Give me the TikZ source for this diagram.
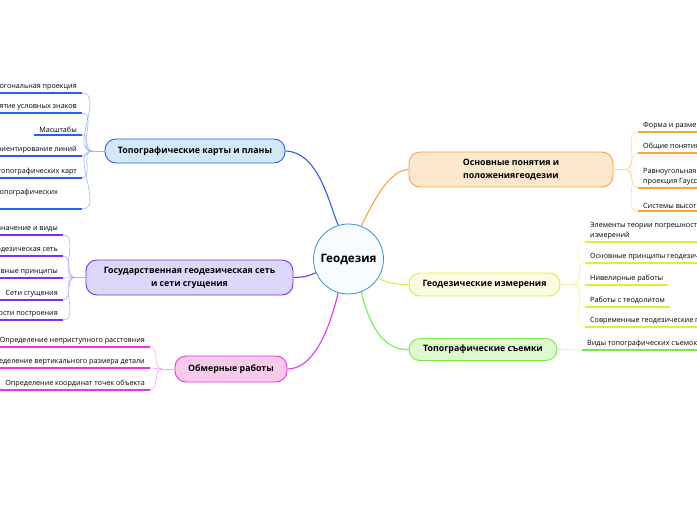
\documentclass[tikz,border=0pt]{standalone}
\usepackage{fontspec}
\setmainfont{Open Sans}
\usepackage{xcolor}
\usetikzlibrary{positioning}
\definecolor{hubline}{HTML}{3B8FD9}
\definecolor{hubfill}{HTML}{F8FCFF}
\definecolor{topoblue}{HTML}{2560EE}
\definecolor{topofill}{HTML}{D3E9FA}
\definecolor{gospurple}{HTML}{7B30E6}
\definecolor{gosfill}{HTML}{DCD8FC}
\definecolor{obmpink}{HTML}{E634E6}
\definecolor{obmfill}{HTML}{F9C9EC}
\definecolor{osnorange}{HTML}{F7A63C}
\definecolor{osnfill}{HTML}{FCE8CD}
\definecolor{izmyellow}{HTML}{D8F23C}
\definecolor{izmfill}{HTML}{FBFBE2}
\definecolor{sjemgreen}{HTML}{6EF046}
\definecolor{sjemfill}{HTML}{DFF8CF}
\newcommand{\leafsize}{\fontsize{7.2}{10}\selectfont}

\begin{document}
\begin{tikzpicture}[x=1pt, y=-1pt,
    hub/.style={draw=hubline, fill=hubfill, circle, line width=0.8pt, minimum size=70pt,
                inner sep=0pt, font=\fontsize{11.6}{13}\selectfont\bfseries},
    topic/.style={draw, rounded corners=11pt, line width=0.9pt, align=center,
                  inner sep=2pt, font=\fontsize{8.8}{13}\selectfont\bfseries},
    leafl/.style={anchor=south east, inner xsep=5pt, inner ysep=2.5pt,
                  font=\leafsize, align=right},
    leafr/.style={anchor=south west, inner xsep=5pt, inner ysep=2.5pt,
                  font=\leafsize, align=left},
    branch/.style={line width=1.1pt},
    uline/.style={line width=1.3pt},
    twig/.style={line width=0.6pt},
]
\useasboundingbox (0,0) rectangle (697,520);
\clip (0,0) rectangle (697,520);

% Centre
\node[hub] (geo) at (348.5,259) {Геодезия};

% Main topics
\node[topic, draw=topoblue, fill=topofill, minimum width=180pt, minimum height=24pt]
  (topo) at (195,151) {Топографические карты и планы};
\node[topic, draw=gospurple, fill=gosfill, minimum width=207pt, minimum height=35pt]
  (gos) at (189.5,277.5) {Государственная геодезическая сеть\\и сети сгущения};
\node[topic, draw=obmpink, fill=obmfill, minimum width=112pt, minimum height=26pt]
  (obm) at (231,369) {Обмерные работы};
\node[topic, draw=osnorange, fill=osnfill, minimum width=204pt, minimum height=35pt]
  (osn) at (511,169.5) {Основные понятия и\\положениягеодезии};
\node[topic, draw=izmyellow, fill=izmfill, minimum width=151pt, minimum height=23pt]
  (izm) at (484.5,284.5) {Геодезические измерения};
\node[topic, draw=sjemgreen, fill=sjemfill, minimum width=148pt, minimum height=22pt]
  (sjem) at (483,349.5) {Топографические съемки};

% Branches from the centre
\draw[branch, topoblue] (geo.107) .. controls (328,200) and (318,152) .. (topo.east);
\draw[branch, osnorange] (geo.69) .. controls (372,205) and (388,170) .. (osn.west);
\draw[branch, gospurple] (geo.203) .. controls (305,277) .. (gos.east);
\draw[branch, obmpink] (geo.253) .. controls (328,335) and (312,369) .. (obm.east);
\draw[branch, izmyellow] (geo.327) .. controls (392,284) .. (izm.west);
\draw[branch, sjemgreen] (geo.291) .. controls (372,335) and (388,350) .. (sjem.west);

% Junctions
\coordinate (tj) at (92,151);
\coordinate (gj) at (75,277.5);
\coordinate (oj) at (162,369);
\coordinate (pj) at (625,169.5);
\coordinate (mj) at (573,284.5);

% Topographic maps leaves
\node[leafl] (t1) at (82,93) {Ортогональная проекция};
\node[leafl] (t2) at (82,113) {Понятие условных знаков};
\node[leafl] (t3) at (82,135) {Масштабы};
\node[leafl] (t4) at (82,156) {Ориентирование линий};
\node[leafl] (t5) at (82,178) {Номенклатура топографических карт};
\node[leafl, align=left, text width=138pt] (t6) at (82,209) {Использование топографических\\карт};
\foreach \n in {t1,t2,t3,t4,t5,t6} {
  \draw[uline, topoblue] (\n.south west) -- (\n.south east);
  \draw[twig, topoblue!45] (\n.south east) to[out=0, in=180] (tj);
}
\draw[twig, topoblue!45] (tj) -- (topo.west);

% Geodetic network leaves
\node[leafl] (g1) at (63,235) {Назначение и виды};
\node[leafl] (g2) at (63,256) {Государственная геодезическая сеть};
\node[leafl] (g3) at (63,278) {Основные принципы};
\node[leafl] (g4) at (63,300) {Сети сгущения};
\node[leafl] (g5) at (63,320) {Особенности построения};
\foreach \n in {g1,g2,g3,g4,g5} {
  \draw[uline, gospurple] (\n.south west) -- (\n.south east);
  \draw[twig, gospurple!45] (\n.south east) to[out=0, in=180] (gj);
}
\draw[twig, gospurple!45] (gj) -- (gos.west);

% Measuring works leaves
\node[leafl] (o1) at (150,347) {Определение неприступного расстояния};
\node[leafl] (o2) at (150,368) {Определение вертикального размера детали};
\node[leafl] (o3) at (150,390) {Определение координат точек объекта};
\foreach \n in {o1,o2,o3} {
  \draw[uline, obmpink] (\n.south west) -- (\n.south east);
  \draw[twig, obmpink!45] (\n.south east) to[out=0, in=180] (oj);
}
\draw[twig, obmpink!45] (oj) -- (obm.west);

% Basic notions leaves
\node[leafr] (p1) at (638,132) {Форма и размеры Земли};
\node[leafr] (p2) at (638,153) {Общие понятия};
\node[leafr] (p3) at (638,188) {Равноугольная\\проекция Гаусса-Крюгера};
\node[leafr] (p4) at (638,211) {Системы высот};
\foreach \n in {p1,p2,p3,p4} {
  \draw[uline, osnorange] (\n.south west) -- (\n.south east);
  \draw[twig, osnorange!45] (pj) to[out=0, in=180] (\n.south west);
}
\draw[twig, osnorange!45] (osn.east) -- (pj);

% Geodetic measurements leaves
\node[leafr] (m1) at (585,242) {Элементы теории погрешностей\\измерений};
\node[leafr] (m2) at (585,263) {Основные принципы геодезических измерений};
\node[leafr] (m3) at (585,285) {Нивелирные работы};
\node[leafr] (m4) at (585,307) {Работы с теодолитом};
\node[leafr] (m5) at (585,327) {Современные геодезические приборы};
\foreach \n in {m1,m2,m3,m4,m5} {
  \draw[uline, izmyellow] (\n.south west) -- (\n.south east);
  \draw[twig, izmyellow!45] (mj) to[out=0, in=180] (\n.south west);
}
\draw[twig, izmyellow!45] (izm.east) -- (mj);

% Topographic surveys leaf
\node[leafr] (s1) at (582,350) {Виды топографических съемок};
\draw[uline, sjemgreen] (s1.south west) -- (s1.south east);
\draw[twig, sjemgreen!45] (sjem.east) -- (s1.south west);
\end{tikzpicture}
\end{document}
